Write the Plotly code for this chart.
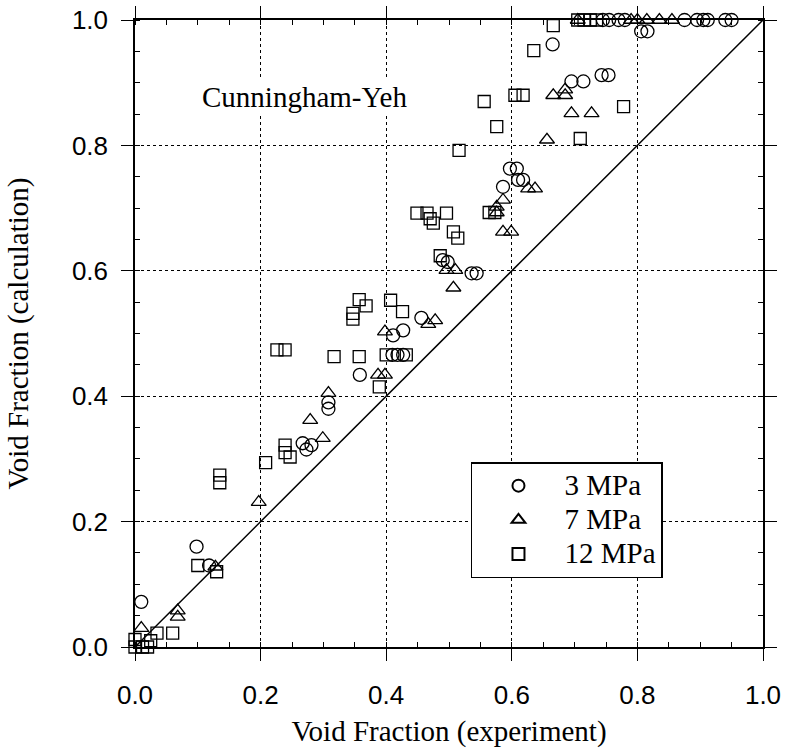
import plotly.graph_objects as go

# ---------------- data ----------------
c3_x = [0.010, 0.098, 0.118, 0.267, 0.273, 0.281, 0.308, 0.308, 0.358, 0.410,
        0.418, 0.427, 0.411, 0.427, 0.456, 0.490, 0.498, 0.536, 0.544, 0.586,
        0.597, 0.608, 0.610, 0.618, 0.665, 0.695, 0.714, 0.743, 0.754, 0.806,
        0.816, 0.745, 0.755, 0.770, 0.780, 0.875, 0.895, 0.905, 0.912, 0.940, 0.950]
c3_y = [0.072, 0.160, 0.130, 0.325, 0.315, 0.322, 0.390, 0.380, 0.434, 0.466,
        0.466, 0.466, 0.497, 0.505, 0.525, 0.617, 0.614, 0.596, 0.596, 0.734,
        0.763, 0.763, 0.745, 0.745, 0.961, 0.902, 0.902, 0.912, 0.912, 0.982,
        0.982, 1.000, 1.000, 1.000, 1.000, 1.000, 1.000, 1.000, 1.000, 1.000, 1.000]

t7_x = [0.010, 0.068, 0.068, 0.128, 0.197, 0.279, 0.299, 0.308, 0.387, 0.398,
        0.398, 0.467, 0.478, 0.496, 0.510, 0.507, 0.576, 0.576, 0.586, 0.586,
        0.599, 0.626, 0.637, 0.656, 0.666, 0.685, 0.685, 0.695, 0.727,
        0.705, 0.790, 0.800, 0.815, 0.835, 0.855]
t7_y = [0.030, 0.058, 0.048, 0.128, 0.231, 0.362, 0.333, 0.405, 0.434, 0.434,
        0.503, 0.515, 0.521, 0.601, 0.601, 0.573, 0.702, 0.693, 0.713, 0.662,
        0.662, 0.731, 0.731, 0.809, 0.880, 0.880, 0.889, 0.851, 0.851,
        1.000, 1.000, 1.000, 1.000, 1.000, 1.000]

s12_x = [0.000, 0.000, 0.012, 0.020, 0.025, 0.035, 0.060, 0.100, 0.130, 0.135,
         0.135, 0.208, 0.226, 0.239, 0.239, 0.239, 0.247, 0.317, 0.357, 0.389,
         0.347, 0.347, 0.357, 0.368, 0.407, 0.426, 0.400, 0.432, 0.449, 0.465,
         0.475, 0.496, 0.470, 0.507, 0.514, 0.486, 0.516, 0.556, 0.576, 0.564,
         0.573, 0.605, 0.618, 0.635, 0.666, 0.709, 0.778,
         0.705, 0.715, 0.725, 0.735]
s12_y = [0.000, 0.012, 0.000, 0.000, 0.010, 0.022, 0.022, 0.130, 0.120, 0.274,
         0.262, 0.294, 0.474, 0.474, 0.322, 0.310, 0.303, 0.463, 0.463, 0.415,
         0.532, 0.523, 0.554, 0.544, 0.553, 0.535, 0.466, 0.466, 0.692, 0.692,
         0.676, 0.692, 0.683, 0.662, 0.652, 0.624, 0.792, 0.870, 0.830, 0.693,
         0.693, 0.880, 0.880, 0.951, 0.991, 0.811, 0.862,
         1.000, 1.000, 1.000, 1.000]

diag_x = [0.0, 1.0]
diag_y = [0.0, 1.0]

x_ticks = [0.0, 0.2, 0.4, 0.6, 0.8, 1.0]
y_ticks = [0.0, 0.2, 0.4, 0.6, 0.8, 1.0]
x_ticklabels = ["0.0", "0.2", "0.4", "0.6", "0.8", "1.0"]
y_ticklabels = ["0.0", "0.2", "0.4", "0.6", "0.8", "1.0"]

series_names = ["3 MPa", "7 MPa", "12 MPa"]

SERIF = "Liberation Serif, Times New Roman, serif"
SANS = "Liberation Sans, Arial, sans-serif"


def legend_label(name):
    return '<span style="font-size:29px">' + name + '</span>'


fig = go.Figure()

fig.add_trace(go.Scatter(x=diag_x, y=diag_y, mode="lines",
                         line=dict(color="black", width=1.5),
                         showlegend=False, hoverinfo="skip"))

mk_line = dict(color="black", width=1.3)
fig.add_trace(go.Scatter(x=c3_x, y=c3_y, mode="markers", name=legend_label(series_names[0]),
                         marker=dict(symbol="circle-open", size=13, color="black", line=mk_line),
                         cliponaxis=False))
fig.add_trace(go.Scatter(x=t7_x, y=t7_y, mode="markers", name=legend_label(series_names[1]),
                         marker=dict(symbol="triangle-up-open", size=13, color="black", line=mk_line),
                         cliponaxis=False))
fig.add_trace(go.Scatter(x=s12_x, y=s12_y, mode="markers", name=legend_label(series_names[2]),
                         marker=dict(symbol="square-open", size=12, color="black", line=mk_line),
                         cliponaxis=False))

axis_common = dict(
    range=[0, 1], showline=True, linecolor="black", linewidth=1.5, mirror="allticks",
    ticks="outside", ticklen=12, tickwidth=1.3, tickcolor="black",
    showgrid=True, gridcolor="black", gridwidth=1, griddash="dot",
    zeroline=False,
    tickfont=dict(family=SANS, size=26, color="black"),
    minor=dict(dtick=0.05, ticks="inside", ticklen=5, tickwidth=1, tickcolor="black", showgrid=False),
)

fig.update_xaxes(**axis_common, tickmode="array", tickvals=x_ticks, ticktext=x_ticklabels,
                 ticklabelstandoff=12,
                 title=dict(text="Void Fraction (experiment)",
                            font=dict(family=SERIF, size=29, color="black"), standoff=12))
fig.update_yaxes(**axis_common, tickmode="array", tickvals=y_ticks, ticktext=y_ticklabels,
                 ticklabelstandoff=8,
                 title=dict(text="Void Fraction (calculation)",
                            font=dict(family=SERIF, size=29, color="black"), standoff=35))

# inward part of the major ticks on the bottom and right frame edges
inner_tick = dict(range=[0, 1], ticks="inside", ticklen=12, tickwidth=1.3, tickcolor="black",
                  showticklabels=False, showgrid=False, showline=False, zeroline=False)
fig.update_layout(
    xaxis2=dict(overlaying="x", anchor="y", side="bottom", tickmode="array",
                tickvals=x_ticks, **inner_tick),
    yaxis2=dict(overlaying="y", anchor="x", side="right", tickmode="array",
                tickvals=y_ticks, **inner_tick),
)

fig.add_annotation(x=0.27, y=0.877, xref="x", yref="y", text="Cunningham-Yeh",
                   showarrow=False, font=dict(family=SERIF, size=29, color="black"),
                   bgcolor="white")

fig.update_layout(
    width=787, height=753,
    margin=dict(l=135, r=24, t=20, b=106, autoexpand=False),
    plot_bgcolor="white", paper_bgcolor="white",
    showlegend=True,
    legend=dict(x=0.535, y=0.295, xanchor="left", yanchor="top",
                font=dict(family=SERIF, size=24, color="black"),
                bordercolor="black", borderwidth=1.5, bgcolor="white",
                itemsizing="constant", itemwidth=82, tracegroupgap=0),
)

# remove the default 8px page margin so the figure fills the window exactly
fig.write_html("out.html", config={"displayModeBar": False},
               post_script="document.body.style.margin='0';")
